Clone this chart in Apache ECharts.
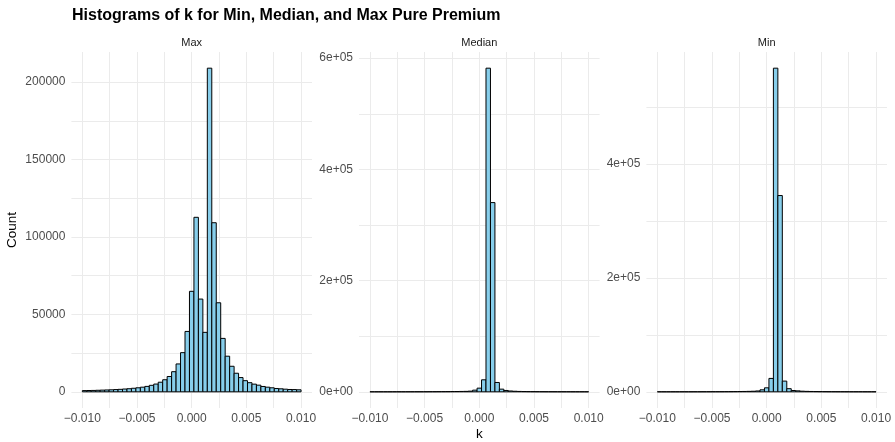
<!DOCTYPE html>
<html>
<head>
<meta charset="utf-8">
<script src="https://cdn.jsdelivr.net/npm/echarts@6/dist/echarts.min.js"></script>
<style>
  html, body { margin: 0; padding: 0; background: #fff; }
  #chart { width: 895px; height: 442px; }
</style>
</head>
<body>
<div id="chart"></div>
<script>
// histogram bins: 49 bins of width 0.02/49, centred on k = 0
var binWidth = 0.02 / 49;
var binCenters = [];
for (var n = -24; n <= 24; n++) binCenters.push(n * binWidth);

var panelNames = ['Max', 'Median', 'Min'];

// counts per bin, left to right (k = -0.0098 ... 0.0098)
var maxCounts = [
  800, 850, 900, 1000, 1100, 1200, 1300, 1450, 1600, 1800, 2000, 2300,
  2600, 3000, 3500, 4200, 5000, 6200, 7800, 9900, 13000, 18000, 25300, 39000,
  64900, 112700, 59900, 38400, 209000, 109200, 57500, 34500, 23000, 16500, 12000, 9200,
  7200, 5900, 4950, 4300, 3450, 3000, 2600, 2150, 1950, 1700, 1500, 1450, 1300
];
var medianCounts = [
  15, 20, 25, 30, 35, 40, 50, 60, 70, 85, 100, 120,
  150, 180, 220, 270, 330, 400, 480, 570, 680, 800,
  1200, 3000, 6600, 21600, 582000, 340300, 16800, 4800, 2400,
  1500, 1000, 700, 500, 380, 300, 240, 200, 160, 130, 110, 90, 80, 70, 60, 50, 45, 40
];
var minCounts = [
  15, 20, 25, 30, 35, 40, 50, 60, 70, 85, 100, 120,
  150, 180, 220, 270, 330, 400, 500, 620, 800, 1000,
  1500, 3500, 7000, 23500, 567700, 344300, 18800, 5500, 2300,
  1700, 1100, 800, 600, 450, 350, 280, 220, 180, 150, 120, 100, 85, 75, 65, 55, 50, 45
];

var xGridValues = [-0.01, -0.0075, -0.005, -0.0025, 0, 0.0025, 0.005, 0.0075, 0.01];
var xLabelValues = [-0.01, -0.005, 0, 0.005, 0.01];

var maxYGrid = [0, 25000, 50000, 75000, 100000, 125000, 150000, 175000, 200000];
var maxYLabels = [0, 50000, 100000, 150000, 200000];
var medianYGrid = [0, 100000, 200000, 300000, 400000, 500000, 600000];
var medianYLabels = [0, 200000, 400000, 600000];
var minYGrid = [0, 100000, 200000, 300000, 400000, 500000];
var minYLabels = [0, 200000, 400000];

var chart = echarts.init(document.getElementById('chart'), null, { renderer: 'canvas' });
var FONT = '"Liberation Sans", Arial, Helvetica, sans-serif';
var GRID = '#ebebeb';

var panels = [
  { left: 71.4, counts: maxCounts, yMin: -10450, yMax: 219450, yGrid: maxYGrid, yLabels: maxYLabels, sci: false },
  { left: 359, counts: medianCounts, yMin: -29100, yMax: 611100, yGrid: medianYGrid, yLabels: medianYLabels, sci: true },
  { left: 646.4, counts: minCounts, yMin: -28385, yMax: 596085, yGrid: minYGrid, yLabels: minYLabels, sci: true }
];

function fmtX(v) {
  return (v < 0 ? '\u2212' : '') + Math.abs(v).toFixed(3);
}
function fmtSci(v) {
  if (v === 0) return '0e+00';
  var e = Math.floor(Math.log10(v));
  var m = Math.round(v / Math.pow(10, e));
  return m + 'e+' + (e < 10 ? '0' + e : e);
}

var grids = [], xAxes = [], yAxes = [], series = [];
panels.forEach(function (p, idx) {
  grids.push({ left: p.left, width: 240.6, top: 52, height: 356 });
  xAxes.push({
    type: 'value', gridIndex: idx, min: -0.011, max: 0.011,
    axisLine: { show: false },
    axisTick: { show: false, customValues: xGridValues },
    axisLabel: {
      customValues: xLabelValues, formatter: fmtX,
      color: '#4d4d4d', fontFamily: FONT, fontSize: 12, margin: 5
    },
    splitLine: { show: true, lineStyle: { color: GRID, width: 1 } }
  });
  yAxes.push({
    type: 'value', gridIndex: idx, min: p.yMin, max: p.yMax,
    axisLine: { show: false },
    axisTick: { show: false, customValues: p.yGrid },
    axisLabel: {
      customValues: p.yLabels,
      formatter: p.sci ? fmtSci : function (v) { return String(v); },
      color: '#4d4d4d', fontFamily: FONT, fontSize: 12, margin: 6
    },
    splitLine: { show: true, lineStyle: { color: GRID, width: 1 } }
  });
  series.push({
    type: 'custom', xAxisIndex: idx, yAxisIndex: idx,
    data: binCenters.map(function (c, i) { return [c, p.counts[i]]; }),
    renderItem: function (params, api) {
      var c = api.value(0), v = api.value(1);
      var p0 = api.coord([c - binWidth / 2, 0]);
      var p1 = api.coord([c + binWidth / 2, v]);
      return {
        type: 'rect',
        shape: { x: p0[0], y: p1[1], width: p1[0] - p0[0], height: p0[1] - p1[1] },
        style: { fill: '#87ceeb', stroke: '#000', lineWidth: 1 }
      };
    },
    silent: true
  });
});

var centres = [191.7, 479.3, 766.7];
var graphics = [
  { type: 'text', x: 72, y: 15.5, style: { text: 'Histograms of k for Min, Median, and Max Pure Premium', font: 'bold 16px ' + FONT, fill: '#000', verticalAlign: 'middle' } },
  { type: 'text', x: 479.3, y: 434, style: { text: 'k', font: '13.5px ' + FONT, fill: '#000', align: 'center', verticalAlign: 'middle' } },
  { type: 'text', x: 12.5, y: 230, rotation: Math.PI / 2, style: { text: 'Count', font: '13.5px ' + FONT, fill: '#000', align: 'center', verticalAlign: 'middle' } }
];
panelNames.forEach(function (name, i) {
  graphics.push({ type: 'text', x: centres[i], y: 42.5, style: { text: name, font: '11px ' + FONT, fill: '#1a1a1a', align: 'center', verticalAlign: 'middle' } });
});

chart.setOption({
  backgroundColor: '#fff',
  animation: false,
  grid: grids,
  xAxis: xAxes,
  yAxis: yAxes,
  series: series,
  graphic: graphics
});
</script>
</body>
</html>
